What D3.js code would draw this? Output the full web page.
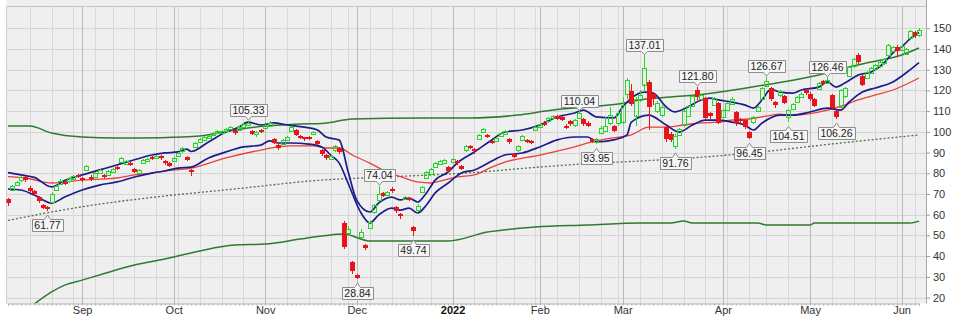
<!DOCTYPE html>
<html><head><meta charset="utf-8">
<script src="https://cdn.jsdelivr.net/npm/d3@7"></script>
<style>body{margin:0;background:#fff}svg{display:block}</style>
</head><body>
<svg id="c" width="960" height="324"></svg>
<script>
// ---------- categories ----------
const firstDay = "2021-08-09", lastDay = "2022-06-07";
const holidays = ["2021-09-06","2021-11-25","2021-12-24","2022-01-17","2022-02-21","2022-04-15","2022-05-30"];
const monthLabels = ["Sep","Oct","Nov","Dec","2022","Feb","Mar","Apr","May","Jun"];
const yTicks = [20,30,40,50,60,70,80,90,100,110,120,130,140,150];

// ---------- OHLC ----------
const opens = [67.5,72,74.5,76.5,78,73,71.5,68.5,64.5,63.5,66,72,75,76,76,77,79,77.5,81.5,78,78,80,79,79,80.5,83,85.5,84.5,85,82,80,85,86,88,87.5,88.5,86,85,86,88.5,90.5,88,81.5,92.5,95,96,97,98.5,99.5,99.5,100.5,101.5,101,101,102.5,103.5,100.5,99,101,102,103,96.5,93.5,94,96,100.5,101,98,97.5,97.5,99,95.5,91,89,87,91,92,56,51,37,31,49,45.5,53.5,61,67,70.5,69.5,72.5,63.5,60.5,67.5,68,54,62,71,77.5,79.5,83,84.5,85,83,85.5,86,83.5,91,93,91.5,96.5,100,98.5,95.5,95.5,98,99,96.5,89.5,91,96,96,95.5,101,102.5,104.5,105,106.5,107.5,107,103,105,103,106.5,106,104.5,96.5,95,99.5,100.5,104,103,104,105,118,119.5,108,115.5,123,124,118.5,110,108,102.5,99,93,98.5,103,107.5,112.5,120,116,116.5,109,113,114,107,110.5,113.5,109.5,106,105.5,100,104.5,110,115.5,122,121,114.5,117.5,117.5,107,111,114.5,117,120,118.5,116,120.5,124.5,123.5,118,110,112,117,127,131.5,137,127,126,128.5,130.5,131.5,133,137,139,141,139.5,137.5,145,148,146.5];
const highs = [68,74.5,76.5,78.5,78.5,74,72,69,65,64,71,74.5,77,76.5,78,79,79.5,78,84,79,80.5,82,79.5,81.5,82.5,83.5,88,86.5,85.5,82.5,82,87,87.5,88.5,89,89,86.5,85.5,88,90.5,92.5,88.5,82,95,97,98,98.5,100,101,101,102,103,101.5,103,104.5,105.33,101,100.5,101.5,104,105,97,94,96.5,98,103,101.5,98.5,97.5,98,100.5,96,91.5,89.5,89,93.5,92.5,57,54.5,37.5,31.5,53,46,57,65,74.04,71,71.5,73.5,64,61,69,68.5,54.5,65,74,81,82.5,85.5,86.5,87,83.5,87.5,86.5,84,93.5,93.5,92,99,102,99,96,97.5,100,101,97,90,93.5,98.5,96.5,96,103,104.5,105,107,108,108,107.5,104,105.5,106,110.04,106.5,105,97,97,103,107,112,103.5,110,117,126,123,117,120,137.01,125,119,115,113,103.5,100,99,102,111,113,118.5,121.8,118.5,117,109.5,117,114.5,111,114.5,117,110,106.5,106,100.5,107.5,112.5,121.5,126.67,121.5,115,120,118,111,114,117.5,119,121,119,116.5,124,125,126.46,118.5,110.5,120.5,121.5,132,135.5,138,127.5,129.5,131.5,133,134,135.5,142.5,141.5,142,142,140.5,149,148.5,150];
const lows = [64,71.5,74,76,76,70.5,69,65.5,62.5,61.77,65.5,71.5,74.5,74.5,75.5,76.5,77.5,76,81,76.5,77.5,79.5,77,78.5,80,81.5,85,84,83.5,80,79.5,84.5,85.5,86.5,87,86.5,84,83,85.5,88,90,86,78.5,92,94.5,95.5,96.5,98,99,99,100,101,98.5,100.5,102,103,98.5,97.5,99.5,101.5,102.5,94,91,93.5,95.5,100,98,96.5,95.5,96,98.5,93.5,88.5,86.5,86.5,90.5,89.5,43.5,50.5,31.5,28.84,48.5,43,53,60.5,66.5,68.5,69,70.5,61,58,67,66.5,49.74,61.5,70.5,77,79,82.5,84,84.5,80,85,84,81.5,90.5,91.5,89.5,96,99.5,97,94,95,97.5,98.5,94,87.5,90.5,95.5,94.5,94,100.5,102,103,104.5,106,105.5,105,101.5,103,102.5,106,103,102.5,94.5,93.95,99,100,103.5,100,103,104,116,112.5,103,114.5,119,101,113,109,107,95,95,91.76,98,102.5,107,112,115.5,115.5,106,106,112.5,104,106.5,110,113,103,104,101.5,96.45,104,109.5,115,121.5,115,111.5,117,113.5,104.51,110.5,114,116.5,118,115,112,120,122.5,123,111,106.26,111.5,116.5,126.5,131,133,122,125.5,128,130,131,132.5,136.5,138.5,136,139,137,144.5,145.5,146];
const closes = [65.5,74,76,78,76.5,71.5,70,66.5,63,62.5,70,74,76.5,75,77.5,78.5,78,76.5,83.5,77,80,81.5,78,81,82,82,87.5,86,84,80.5,81.5,86.5,87,87,88.5,87.5,85,83.5,87.5,90,92,86.5,80.5,94.5,96.5,97.5,98,99.5,100.5,100.5,101.5,102.5,99.5,102.5,104,104.5,99,100,100,103.5,104.5,94.5,92,96,97.5,102.5,98.5,97,96.5,97,100,94,89,87.5,88.5,93,90,44.5,53,32.5,29.5,51.5,44,56.5,64.5,70,69,71,71.5,61.5,59.5,68.5,67,52,64,73.5,80.5,82,85,86,86.5,81,87,85,82,93,92,90.5,98.5,101.5,97.5,94.5,97,99.5,100.5,95,88,93,98,95,94.5,102.5,104,103.5,106.5,107.5,106,105.5,102.5,103.5,105.5,109,103.5,103,95,96.5,102,103,108,100.5,109,113,125,113,116,118,131,112,116,114,112,96.5,96,98,101.5,110,112.5,117.5,116.5,118,107,107.5,116.5,104.5,110.5,114,116,104,105,102,97,107,112,121,124.5,115.5,113,119.5,114,110.5,113.5,117,118.5,118.5,116,112.5,123.5,123,125,111.5,107,120,121,131.5,135,133.5,122.5,129,131,132.5,133.5,135,142,141,139,141.5,140,148.5,146,149];

// ---------- indicator lines: [trading-day index, value] ----------
const channelUpper = [[0,80.3],[3,79.2],[6,78],[10,73.4],[13,76.5],[17,79.2],[21,81.6],[25,84],[29,86.5],[33,88.8],[36,89.8],[39,90.3],[41,91.7],[42,90.5],[46,95.1],[50,99.9],[53,102.3],[55,104.7],[58,103.3],[61,104.3],[64,103.3],[68,102.3],[71,100.9],[73,97.5],[76,96],[78,81],[80,67],[83,61.3],[85,65.6],[88,68.5],[90,67.1],[92,68],[94,66.1],[96,70.5],[98,76.7],[101,80.6],[103,84.9],[107,90.3],[111,96.1],[114,99.9],[118,100.9],[122,103.3],[126,107.2],[130,109.1],[132,110.5],[135,107.2],[139,106.7],[141,112],[143,116.3],[146,119.2],[148,118.7],[151,112],[153,109.6],[156,112],[159,115.4],[161,116.3],[163,115.4],[166,114.4],[169,113],[171,111.5],[173,115.4],[175,120.5],[177,119.3],[180,118.7],[182,120.2],[186,121.6],[188,124.1],[190,121.6],[192,123.6],[195,127.4],[198,128.9],[201,133.3],[203,138.1],[205,141],[207,145],[209,148]];
const channelLower = [[0,72.4],[3,71.9],[6,69.5],[10,65.6],[13,68.5],[17,71.9],[21,74.3],[25,75.8],[29,78.2],[33,80.1],[36,81.1],[39,82.5],[42,83],[46,87.4],[50,90.3],[54,92.7],[58,93.6],[60,95.6],[62,94.6],[65,94.6],[69,94.1],[72,92.7],[74,88.8],[76,84.9],[78,75.3],[81,60.8],[83,56],[85,59.8],[88,63.2],[90,62.2],[92,63.2],[94,60.8],[96,64.7],[98,70.5],[101,75.3],[104,80.1],[107,81.6],[111,85.9],[114,88.8],[118,89.8],[122,92.7],[126,96.1],[130,97.5],[133,97.5],[135,95.1],[139,96.1],[142,98.5],[143,104.7],[147,108.1],[151,103.3],[154,99.9],[157,103.3],[160,105.7],[163,105.7],[166,104.7],[169,103.3],[171,100.9],[173,104.3],[177,108.1],[180,108.1],[184,109.6],[188,111.5],[191,110.5],[193,114.4],[196,119.2],[199,121.2],[203,124.1],[206,128.4],[209,133.4]];
const movingAvg = [[0,78.4],[4,77.7],[10,75.3],[13,75.8],[17,76.7],[21,77.2],[25,77.7],[29,79.2],[33,80.1],[36,81.1],[42,82.5],[50,87.4],[58,91.2],[62,92.7],[65,93.2],[70,93.2],[73,92.2],[76,92.2],[79,88.8],[83,84.9],[87,80.6],[91,77.7],[94,75.8],[97,75.3],[100,76.7],[103,78.2],[107,79.2],[111,83],[114,85.4],[122,88.8],[130,92.7],[134,95.1],[137,96.5],[143,98.5],[147,102.3],[151,102.3],[155,103.3],[159,104.3],[163,104.7],[166,105.7],[170,106.2],[174,107.6],[177,108.6],[180,108.1],[188,110.5],[192,113],[195,115.4],[199,117.8],[203,120.2],[209,126]];
const longUpper = [[0,102.8],[5,102.8],[10,99.4],[17,97.5],[25,97],[35,97.2],[44,98],[52,100.9],[59,102.8],[67,103.8],[72,104],[79,106.2],[95,106.7],[106,106.7],[117,108.1],[125,110.5],[133,112],[140,113.4],[145,115.4],[152,116.8],[160,118.3],[168,120.7],[175,123.1],[186,127.4],[192,130.8],[198,133.7],[205,137.1],[209,140.5]];
const longMiddle = [[0,57.2],[10,61.3],[21,65.1],[36,69],[52,72.4],[72,76.7],[87,78.2],[105,80.1],[122,83],[135,84.9],[145,85.9],[168,89.3],[191,94.6],[209,98.5]];
const longLower = [[0,8],[6,16.9],[10,22.7],[13,26],[17,28.4],[21,30.9],[29,35.7],[36,38.6],[44,42.5],[52,45.3],[59,45.8],[67,48.2],[72,49.7],[77,50.7],[83,47.3],[101,47.3],[110,51.6],[121,54],[133,55],[145,56],[152,56],[155,56.9],[157,56],[172,56],[174,55],[184,55],[185,56],[207,56],[209,56.9]];

// ---------- annotated highs / lows ----------
const calloutIdx = [9,55,80,85,93,131,135,146,153,158,170,174,179,188,190];
const calloutVal = [61.77,105.33,28.84,74.04,49.74,110.04,93.95,137.01,91.76,121.80,96.45,126.67,104.51,126.46,106.26];
const calloutSide = ["low","high","low","high","low","high","low","high","low","high","low","high","low","high","low"];

// ---------- build trading calendar ----------
const dates = [];
for (let d = new Date(firstDay+"T00:00:00Z"); d <= new Date(lastDay+"T00:00:00Z"); d.setUTCDate(d.getUTCDate()+1)) {
  const wd = d.getUTCDay(), s = d.toISOString().slice(0,10);
  if (wd === 0 || wd === 6 || holidays.includes(s)) continue;
  dates.push(s);
}

const svg = d3.select("#c");
const L = 6.5, R = 926, T = 6, B = 303.5;
const x = d3.scalePoint().domain(dates).range([8, 919]);
const y = d3.scaleLinear().domain([20, 150]).range([297.5, 28.3]);
const xi = i => x(dates[i]);

svg.append("rect").attr("width",960).attr("height",324).attr("fill","#fff");
svg.append("rect").attr("x",L).attr("y",0).attr("width",R-L).attr("height",B).attr("fill","#efefef");

// month / week positions
const monthFirst = [], weekFirst = [];
dates.forEach((s,i) => {
  if (i === 0) return;
  const p = dates[i-1];
  if (s.slice(5,7) !== p.slice(5,7)) monthFirst.push(i);
  const gap = (new Date(s) - new Date(p)) / 864e5;
  const wdPrev = new Date(p).getUTCDay(), wd = new Date(s).getUTCDay();
  if (wd < wdPrev || gap > 3) weekFirst.push(i);
});

const grid = svg.append("g").attr("shape-rendering","crispEdges");
grid.selectAll(".hg").data(yTicks).join("line")
  .attr("x1",L).attr("x2",R).attr("y1",d=>Math.round(y(d))+0.5).attr("y2",d=>Math.round(y(d))+0.5)
  .attr("stroke","#d5d5d5");
grid.selectAll(".wg").data(weekFirst.filter(i=>!monthFirst.includes(i))).join("line")
  .attr("x1",i=>Math.round(xi(i))+0.5).attr("x2",i=>Math.round(xi(i))+0.5).attr("y1",T).attr("y2",B)
  .attr("stroke","#d9d9d9");
grid.selectAll(".mg").data(monthFirst).join("line")
  .attr("x1",i=>Math.round(xi(i))+0.5).attr("x2",i=>Math.round(xi(i))+0.5).attr("y1",T).attr("y2",B)
  .attr("stroke","#b9b9b9");
grid.append("line").attr("x1",L).attr("x2",R).attr("y1",T+0.5).attr("y2",T+0.5).attr("stroke","#c4c4c4");
grid.append("line").attr("x1",L).attr("x2",L).attr("y1",T).attr("y2",B).attr("stroke","#cfcfcf");

// clip
svg.append("clipPath").attr("id","pc").append("rect").attr("x",L).attr("y",T).attr("width",R-L).attr("height",B-T);
const plot = svg.append("g").attr("clip-path","url(#pc)");

const line = d3.line().x(d=>xi(d[0])).y(d=>y(d[1])).curve(d3.curveMonotoneX);
plot.append("path").attr("d",line(longLower)).attr("fill","none").attr("stroke","#2f7a2f").attr("stroke-width",1.5);
plot.append("path").attr("d",line(longUpper)).attr("fill","none").attr("stroke","#2f7a2f").attr("stroke-width",1.5);
plot.append("path").attr("d",line(longMiddle)).attr("fill","none").attr("stroke","#4f6f4f").attr("stroke-width",1.3).attr("stroke-dasharray","2,2");
plot.append("path").attr("d",line(movingAvg)).attr("fill","none").attr("stroke","#e8403a").attr("stroke-width",1.3);
plot.append("path").attr("d",line(channelLower)).attr("fill","none").attr("stroke","#1c1c8c").attr("stroke-width",1.7);
plot.append("path").attr("d",line(channelUpper)).attr("fill","none").attr("stroke","#1c1c8c").attr("stroke-width",1.7);

// candles
const GREEN = "#26d626", RED = "#e8141b";
const candles = dates.map((d,i)=>({i,o:opens[i],h:highs[i],l:lows[i],c:closes[i]}));
const cg = plot.append("g").attr("shape-rendering","crispEdges");
candles.forEach(k => {
  const cx = Math.round(xi(k.i)) + 0.5;
  const up = k.c >= k.o;
  const top = y(Math.max(k.o,k.c)), bot = y(Math.min(k.o,k.c));
  const col = up ? GREEN : RED;
  if (up) {
    cg.append("line").attr("x1",cx).attr("x2",cx).attr("y1",y(k.h)).attr("y2",top).attr("stroke",col);
    cg.append("line").attr("x1",cx).attr("x2",cx).attr("y1",bot).attr("y2",y(k.l)).attr("stroke",col);
    cg.append("rect").attr("x",cx-2).attr("y",Math.round(top)+0.5).attr("width",4)
      .attr("height",Math.max(1,Math.round(bot-top))).attr("fill","none").attr("stroke",col).attr("stroke-width",1.2);
  } else {
    cg.append("line").attr("x1",cx).attr("x2",cx).attr("y1",y(k.h)).attr("y2",y(k.l)).attr("stroke",col);
    cg.append("rect").attr("x",cx-2.5).attr("y",Math.round(top)).attr("width",5)
      .attr("height",Math.max(1.5,Math.round(bot-top))).attr("fill",col);
  }
});

// callouts
const cf = "Liberation Sans, Arial, sans-serif";
calloutIdx.forEach((idx,j) => {
  const v = calloutVal[j], side = calloutSide[j];
  const cx = Math.round(xi(idx)) + 0.5;
  const txt = v.toFixed(2);
  const g = svg.append("g");
  const t = g.append("text").text(txt).attr("font-family",cf).attr("font-size",10.5).attr("fill","#222")
    .attr("text-anchor","middle");
  const w = t.node().getComputedTextLength() + 5, h = 12;
  const x0 = Math.round(cx - w/2) + 0.5, x1 = Math.round(cx + w/2) + 0.5;
  let path, ty;
  if (side === "high") {
    const tip = y(v) - 0.5, y1 = Math.round(tip - 4) + 0.5, y0 = y1 - h;
    path = `M${x0},${y0}H${x1}V${y1}H${cx+3}L${cx},${tip}L${cx-3},${y1}H${x0}Z`;
    ty = y0 + h/2;
  } else {
    const tip = y(v) + 4, y0 = Math.round(tip + 4) + 0.5, y1 = y0 + h;
    path = `M${x0},${y0}H${cx-3}L${cx},${tip}L${cx+3},${y0}H${x1}V${y1}H${x0}Z`;
    ty = y0 + h/2;
  }
  g.insert("path","text").attr("d",path).attr("fill","#f6f6f6").attr("stroke","#8c8c8c").attr("stroke-width",1);
  t.attr("x",cx).attr("y",ty).attr("dy","0.36em");
});

// right axis
const ya = svg.append("g").attr("transform",`translate(${R},0)`)
  .call(d3.axisRight(y).tickValues(yTicks).tickSize(4).tickPadding(3));
ya.select(".domain").remove();
ya.selectAll("line").attr("stroke","#9a9a9a");
ya.selectAll("text").attr("font-family",cf).attr("font-size",11).attr("fill","#333");
svg.append("line").attr("x1",R+0.5).attr("x2",R+0.5).attr("y1",0).attr("y2",B).attr("stroke","#a8a8a8");

// bottom axis: day ticks + month labels
const da = svg.append("g").attr("transform",`translate(0,${B})`)
  .call(d3.axisBottom(x).tickValues(dates).tickSize(2).tickFormat(""));
da.select(".domain").attr("stroke","#b0b0b0");
da.selectAll("line").attr("stroke","#b0b0b0");
const ma = svg.append("g").attr("transform",`translate(0,${B})`)
  .call(d3.axisBottom(x).tickValues(monthFirst.map(i=>dates[i])).tickSize(0).tickPadding(3)
    .tickFormat((d,k)=>monthLabels[k]));
ma.select(".domain").remove();
ma.selectAll("text").attr("font-family",cf).attr("font-size",11).attr("fill","#333")
  .attr("font-weight",(d,k)=>monthLabels[k]==="2022"?"bold":"normal")
  .attr("fill",(d,k)=>monthLabels[k]==="2022"?"#111":"#333");
</script>
</body></html>
